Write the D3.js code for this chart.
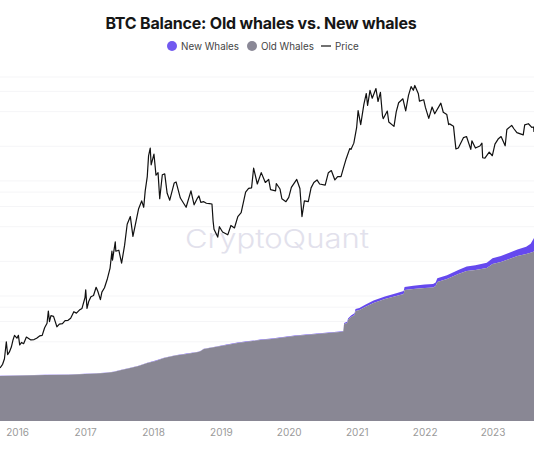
<!DOCTYPE html>
<html><head><meta charset="utf-8">
<script src="https://cdn.jsdelivr.net/npm/d3@7"></script>
<style>
html,body{margin:0;padding:0;background:#fff;}
svg{display:block;font-family:Inter,"Noto Sans",sans-serif;}
</style></head>
<body>
<svg id="chart" width="534" height="462"></svg>
<script>
// ---- data ----
const priceDates = ["2015-10-01","2015-10-15","2015-10-25","2015-11-04","2015-11-11","2015-11-20","2015-12-01","2015-12-10","2015-12-18","2015-12-31",
"2016-01-08","2016-01-15","2016-01-25","2016-02-05","2016-02-20","2016-03-01","2016-03-15","2016-04-01","2016-04-15","2016-05-01","2016-05-15","2016-05-28","2016-06-10","2016-06-17","2016-06-23","2016-07-01","2016-07-15","2016-08-02","2016-08-15","2016-09-01","2016-09-15","2016-10-01","2016-10-15","2016-11-01","2016-11-15","2016-12-01","2016-12-15","2016-12-31",
"2017-01-04","2017-01-11","2017-01-20","2017-02-01","2017-02-15","2017-03-01","2017-03-10","2017-03-24","2017-04-01","2017-04-15","2017-05-01","2017-05-15","2017-05-25","2017-05-28","2017-06-12","2017-06-15","2017-07-01","2017-07-16","2017-08-01","2017-08-15","2017-09-01","2017-09-15","2017-10-01","2017-10-15","2017-11-01","2017-11-12","2017-11-20","2017-12-01","2017-12-08","2017-12-17","2017-12-22",
"2018-01-06","2018-01-17","2018-01-28","2018-02-06","2018-02-20","2018-03-05","2018-03-18","2018-04-01","2018-04-25","2018-05-05","2018-05-28","2018-06-12","2018-06-28","2018-07-24","2018-08-10","2018-08-28","2018-09-05","2018-09-15","2018-10-01","2018-10-15","2018-11-01","2018-11-14","2018-11-20","2018-11-25","2018-12-15","2018-12-24",
"2019-01-10","2019-02-07","2019-02-24","2019-03-15","2019-04-02","2019-04-20","2019-05-14","2019-05-30","2019-06-15","2019-06-26","2019-07-16","2019-08-06","2019-08-28","2019-09-15","2019-09-25","2019-10-22","2019-10-26","2019-11-15","2019-11-25","2019-12-17",
"2020-01-01","2020-01-15","2020-02-13","2020-03-01","2020-03-12","2020-03-25","2020-04-15","2020-04-30","2020-05-15","2020-06-01","2020-06-15","2020-07-15","2020-08-01","2020-08-17","2020-09-05","2020-09-20","2020-10-08","2020-10-21","2020-11-05","2020-11-24","2020-12-01","2020-12-16","2020-12-31",
"2021-01-08","2021-01-22","2021-02-08","2021-02-21","2021-02-28","2021-03-13","2021-03-25","2021-04-14","2021-04-25","2021-05-08","2021-05-19","2021-05-23","2021-06-14","2021-06-22","2021-07-20","2021-08-01","2021-08-14","2021-09-06","2021-09-21","2021-10-06","2021-10-20","2021-11-01","2021-11-09","2021-11-28","2021-12-04","2021-12-27",
"2022-01-05","2022-01-23","2022-02-10","2022-02-24","2022-03-29","2022-04-11","2022-04-30","2022-05-10","2022-05-15","2022-06-05","2022-06-13","2022-06-18","2022-07-01","2022-07-29","2022-08-14","2022-09-06","2022-09-12","2022-10-01","2022-10-25","2022-11-05","2022-11-09","2022-11-21","2022-12-14","2022-12-31",
"2023-01-14","2023-01-31","2023-02-16","2023-03-10","2023-03-19","2023-04-14","2023-04-26","2023-05-12","2023-06-15","2023-06-23","2023-07-13","2023-07-31","2023-08-10","2023-08-12"];
const priceValues = [237,255,285,400,310,325,360,415,455,430,
455,375,395,385,440,430,415,418,430,450,455,530,580,740,600,675,665,540,570,575,610,615,640,730,710,755,780,965,
1130,780,895,985,1010,1190,1100,930,1080,1180,1420,1750,2450,2050,2950,2450,2500,1930,2750,4200,4900,3300,4400,5700,6700,5900,8200,10900,16500,19300,13800,
17100,11200,11800,7000,11300,11500,7800,6800,9600,9800,7100,6500,5900,8200,6200,7100,7400,6500,6600,6400,6350,6300,4500,3800,3250,4000,
3600,3400,4100,3900,4900,5300,8000,8600,8700,12900,9400,11800,9700,10300,8400,8200,9500,8500,7000,6600,
7200,8800,10300,8600,4900,6700,6600,8700,9700,10200,9400,9200,11800,12300,10200,10900,10900,12900,15600,19100,18800,21300,29000,
40800,30800,46200,57500,45200,61200,52300,63500,49000,58800,37000,34700,40500,32500,29800,39800,47800,51700,40600,55300,66000,61300,67500,57200,49300,50700,
43500,35000,43900,38300,47400,39500,37700,30900,31300,29900,22500,19000,19300,23800,24300,18800,22300,19300,20100,21300,15900,15800,17800,16550,
20900,23100,24300,20200,28000,30400,28400,26300,25100,30700,31400,29200,29400,26600];

// BTC balance, thousands of BTC
const balanceDates = ["2015-10-01","2016-02-01","2016-06-01","2016-10-01","2017-01-01","2017-03-01","2017-04-15","2017-06-01","2017-07-15","2017-09-01","2017-10-15","2017-12-01",
"2018-01-15","2018-03-01","2018-05-01","2018-07-01","2018-08-15","2018-09-01","2018-09-15","2018-10-01","2018-12-01",
"2019-02-01","2019-04-01","2019-06-01","2019-08-01","2019-10-01","2019-12-01",
"2020-02-01","2020-04-01","2020-06-01","2020-08-01","2020-10-01","2020-10-20","2020-10-25","2020-11-10","2020-11-15","2020-12-01","2020-12-20","2020-12-25",
"2021-01-15","2021-02-15","2021-04-01","2021-06-01","2021-08-01","2021-09-10","2021-09-15","2021-11-01",
"2022-01-01","2022-02-15","2022-03-01","2022-03-10","2022-05-01","2022-07-01","2022-08-15","2022-10-01","2022-12-01",
"2023-01-01","2023-02-15","2023-04-01","2023-05-15","2023-07-01","2023-07-25","2023-08-12"];
const oldWhales = [520,526,532,535,543,549,555,566,590,613,636,670,
694,728,757,775,792,798,809,832,855,
879,902,919,936,948,965,
983,994,1006,1017,1029,1035,1121,1133,1168,1202,1225,1272,
1283,1318,1364,1410,1445,1468,1514,1526,
1537,1543,1560,1607,1641,1699,1734,1746,1769,
1815,1838,1873,1907,1930,1945,1960];
const newWhales = [3,3,3,3,3,3,3,3,3,3,3,4,
4,4,4,4,4,4,4,4,4,
5,5,5,5,5,5,
5,5,5,6,6,6,12,14,16,18,20,22,
23,25,28,30,33,35,36,38,
40,40,41,42,44,47,52,55,60,
66,70,72,75,85,105,155];

const yearTicks = ["2016","2017","2018","2019","2020","2021","2022","2023"];
const priceGridTicks = [200,400,600,800,1000,2000,4000,6000,8000,10000,20000,40000,60000,80000];
const legendItems = [
  {name:"New Whales", type:"circle", color:"#7159f0"},
  {name:"Old Whales", type:"circle", color:"#8a8896"},
  {name:"Price", type:"line", color:"#111"}
];

// ---- chart ----
const parse = d3.timeParse("%Y-%m-%d");
const W = 534, H = 462;
const svg = d3.select("#chart");

const x = d3.scaleTime().domain([parse("2015-10-01"), parse("2023-08-12")]).range([0, W]);
const yPrice = d3.scaleLog().domain([82, 92000]).range([421, 70]);
const yBal = d3.scaleLinear().domain([0, 4000]).range([421, 75]);

// gridlines
svg.append("g").selectAll("line").data(priceGridTicks).join("line")
  .attr("x1", 0).attr("x2", W)
  .attr("y1", d => yPrice(d)).attr("y2", d => yPrice(d))
  .attr("stroke", "#f5f5f7").attr("stroke-width", 1);

// watermark
svg.append("text").attr("x", 277).attr("y", 248).attr("text-anchor", "middle")
  .attr("font-size", 26).attr("font-weight", 300).attr("fill", "#e2e1ec")
  .attr("textLength", 184).attr("lengthAdjust", "spacingAndGlyphs")
  .text("CryptoQuant");

const bal = balanceDates.map((d, i) => ({date: parse(d), old: oldWhales[i], nw: newWhales[i]}));

// new whales stacked on top
svg.append("path").datum(bal)
  .attr("fill", "#6549ee")
  .attr("d", d3.area().x(d => x(d.date)).y0(d => yBal(d.old)).y1(d => yBal(d.old + d.nw)));
// old whales
svg.append("path").datum(bal)
  .attr("fill", "#898794")
  .attr("d", d3.area().x(d => x(d.date)).y0(yBal(0)).y1(d => yBal(d.old)));

// price
const price = priceDates.map((d, i) => ({date: parse(d), v: priceValues[i]}));
svg.append("path").datum(price)
  .attr("fill", "none").attr("stroke", "#111").attr("stroke-width", 1.2)
  .attr("stroke-linejoin", "round")
  .attr("d", d3.line().x(d => x(d.date)).y(d => yPrice(d.v)));

// x axis labels
const xAxis = d3.axisBottom(x)
  .tickValues(yearTicks.map(y => parse(y + "-01-01")))
  .tickFormat(d3.timeFormat("%Y")).tickSize(0).tickPadding(8);
const gx = svg.append("g").attr("transform", "translate(0,421)").call(xAxis);
gx.select(".domain").remove();
gx.selectAll("text").attr("fill", "#9a9a9a").attr("font-size", 10).attr("font-family", "Inter, sans-serif");

// title
svg.append("text").attr("x", 261).attr("y", 29).attr("text-anchor", "middle")
  .attr("font-size", 16).attr("font-weight", 700).attr("fill", "#161616")
  .attr("letter-spacing", "-0.2")
  .text("BTC Balance: Old whales vs. New whales");

// legend
const lg = svg.append("g").attr("font-size", 9.8);
const lx = [172, 252, 321];
legendItems.forEach((it, i) => {
  const g = lg.append("g").attr("transform", `translate(${lx[i]},46)`);
  if (it.type === "circle") {
    g.append("circle").attr("r", 5).attr("fill", it.color);
    g.append("text").attr("x", 9).attr("y", 3.5).attr("fill", "#444").text(it.name);
  } else {
    g.append("line").attr("x1", 0).attr("x2", 10).attr("stroke", it.color).attr("stroke-width", 1.2);
    g.append("text").attr("x", 14).attr("y", 3.5).attr("fill", "#444").text(it.name);
  }
});
</script>
</body></html>
